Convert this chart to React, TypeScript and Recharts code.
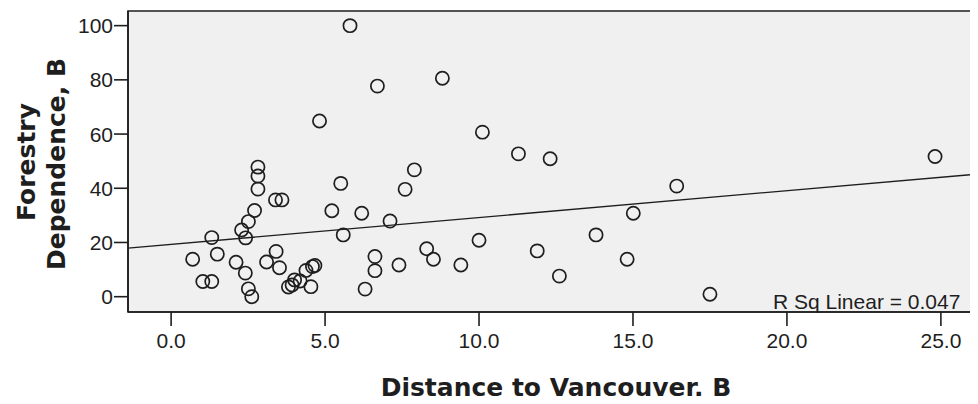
import { ScatterChart, Scatter, XAxis, YAxis, CartesianGrid, ReferenceArea, ReferenceLine } from 'recharts';

// distance to Vancouver (x) vs forestry dependence (y)
const distance = [
  0.7, 1.03, 1.32, 1.32, 1.5, 2.11, 2.41, 2.51, 2.62, 2.29,
  2.42, 2.51, 2.71, 2.82, 2.82, 2.82, 3.39, 3.6, 3.1, 3.41,
  3.52, 3.81, 3.93, 4.01, 4.19, 4.38, 4.54, 4.59, 4.67, 5.51,
  5.22, 6.19, 5.59, 7.11, 7.6, 7.9, 6.62, 6.62, 6.3, 7.4,
  8.3, 8.52, 9.41, 10.0, 11.28, 12.31, 11.89, 12.61, 13.8, 15.01,
  14.81, 5.81, 6.7, 8.81, 4.82, 10.11, 16.42, 24.81, 17.5,
];
const dependence = [
  13.8, 5.6, 5.6, 21.8, 15.7, 12.7, 8.7, 2.9, 0, 24.6,
  21.7, 27.7, 31.8, 39.7, 44.5, 47.8, 35.7, 35.7, 12.8, 16.7,
  10.7, 3.6, 4.3, 6.2, 5.8, 9.7, 3.7, 11.1, 11.5, 41.8,
  31.7, 30.8, 22.8, 27.9, 39.6, 46.8, 14.8, 9.6, 2.8, 11.7,
  17.7, 13.8, 11.7, 20.8, 52.7, 50.9, 16.9, 7.6, 22.8, 30.8,
  13.8, 100, 77.7, 80.6, 64.8, 60.7, 40.8, 51.7, 0.9,
];

const xTicks = [0, 5, 10, 15, 20, 25];
const yTicks = [0, 20, 40, 60, 80, 100];
const X_DOMAIN = [-1.4, 26.27];
const Y_DOMAIN = [-5.65, 105.4];

// linear fit line
const FIT_INTERCEPT = 19.3;
const FIT_SLOPE = 0.99;
const R_SQ = '0.047';

const points = distance.map((x, i) => ({ x, y: dependence[i] }));
const fitAt = (x: number) => FIT_INTERCEPT + FIT_SLOPE * x;

const ink = '#1e1e1e';
const tickFont = { fontFamily: '"Liberation Sans", Arial, sans-serif', fontSize: 21, fill: ink };
const titleFont = { fontFamily: '"DejaVu Sans", Verdana, sans-serif', fontWeight: 700, fontSize: 25, fill: ink };

const Ring = (props: any) => (
  <circle cx={props.cx} cy={props.cy} r={6.6} fill="none" stroke={ink} strokeWidth={1.7} />
);

export default function App() {
  return (
    <div style={{ margin: -8, width: 978, height: 404, overflow: 'hidden', background: '#fff' }}>
      <ScatterChart width={982} height={404} margin={{ top: 11, right: 2, bottom: 0, left: 0 }}>
        <CartesianGrid horizontal={false} vertical={false} fill="#f0f0f0" />
        <XAxis
          type="number"
          dataKey="x"
          domain={X_DOMAIN}
          allowDataOverflow
          ticks={xTicks}
          tickFormatter={(v: number) => v.toFixed(1)}
          height={92}
          tickSize={14}
          tickMargin={7}
          stroke={ink}
          strokeWidth={1.6}
          tick={tickFont}
          label={{
            content: () => (
              <text x={556} y={396} textAnchor="middle" style={titleFont}>
                Distance to Vancouver, B
              </text>
            ),
          }}
        />
        <YAxis
          type="number"
          dataKey="y"
          domain={Y_DOMAIN}
          allowDataOverflow
          ticks={yTicks}
          width={128}
          tickSize={14}
          tickMargin={1}
          stroke={ink}
          strokeWidth={1.6}
          tick={tickFont}
          label={{
            content: () => (
              <g style={titleFont}>
                <text transform="translate(35,162) rotate(-90)" textAnchor="middle">Forestry</text>
                <text transform="translate(65,164) rotate(-90)" textAnchor="middle">Dependence, B</text>
              </g>
            ),
          }}
        />
        <ReferenceArea
          x1={X_DOMAIN[0]} x2={X_DOMAIN[1]} y1={Y_DOMAIN[0]} y2={Y_DOMAIN[1]}
          fill="none" stroke={ink} strokeWidth={1.6} ifOverflow="visible"
        />
        <ReferenceLine
          segment={[{ x: X_DOMAIN[0], y: fitAt(X_DOMAIN[0]) }, { x: X_DOMAIN[1], y: fitAt(X_DOMAIN[1]) }]}
          stroke={ink}
          strokeWidth={1.3}
          ifOverflow="visible"
        />
        <Scatter data={points} shape={Ring} isAnimationActive={false} />
        <ReferenceLine
          segment={[{ x: 19.6, y: -4 }, { x: 19.6, y: -4 }]}
          stroke="none"
          ifOverflow="visible"
          label={{
            content: () => (
              <text x={773} y={309} style={tickFont}>R Sq Linear = {R_SQ}</text>
            ),
          }}
        />
      </ScatterChart>
    </div>
  );
}
